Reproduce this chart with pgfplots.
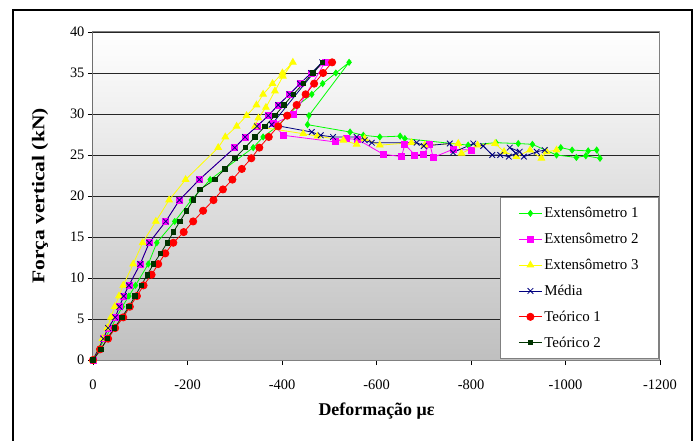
\documentclass[border=0pt]{standalone}
\usepackage{fontspec}
\setmainfont{Liberation Serif}
\usepackage{pgfplots}
\pgfplotsset{compat=1.18}
\definecolor{ext1}{RGB}{0,255,0}
\definecolor{ext2}{RGB}{255,0,255}
\definecolor{ext3}{RGB}{255,255,0}
\definecolor{media}{RGB}{0,0,128}
\definecolor{teo1}{RGB}{255,0,0}
\definecolor{teo2}{RGB}{0,51,0}
\begin{document}
\begin{tikzpicture}
\useasboundingbox (0,0) rectangle (699bp,441bp);
\draw[line width=2bp] (13bp,-10bp) -- (13bp,431bp) -- (692bp,431bp) -- (692bp,-10bp);
\begin{axis}[
    at={(93bp,81bp)}, anchor=south west,
    width=567bp, height=328bp, scale only axis,
    x dir=reverse,
    xmin=-1200, xmax=0, ymin=0, ymax=40,
    xtick={0,-200,-400,-600,-800,-1000,-1200},
    xticklabels={0,-200,-400,-600,-800,-1000,-1200},
    ytick={0,5,...,40},
    xtick pos=bottom, ytick pos=left,
    tick align=outside, major tick length=5bp,
    tick style={black, line width=0.8bp},
    ymajorgrids, grid style={black!85, line width=0.8bp},
    axis line style={gray, line width=1bp},
    axis background/.style={shade, top color=white, bottom color=black!25},
    /pgf/number format/assume math mode=true,
    ticklabel style={font=\fontsize{14.5}{16}\selectfont},
    xticklabel style={yshift=-11bp},
    xlabel={\textbf{Deformação με}},
    ylabel={\textbf{Força vertical (kN)}},
    xlabel style={font=\fontsize{18}{20}\selectfont, at={(axis description cs:0.5,-0.155)}, anchor=center},
    ylabel style={font=\fontsize{18}{20}\selectfont, at={(axis description cs:-0.0935,0.5)}, anchor=center, xscale=1.2},
    legend cell align=left,
    legend image code/.code={\draw[mark repeat=2,mark phase=2,#1] plot coordinates {(0bp,0bp) (11.5bp,0bp) (23bp,0bp)};},
    legend style={at={(0.718,0.497)}, anchor=north west, draw=gray, fill=white,
        font=\fontsize{15}{17}\selectfont, inner xsep=18bp, inner ysep=8bp, row sep=10bp,
        line width=0.8bp},
    every axis plot/.append style={line width=0.8bp},
]
\addplot[ext1, mark=diamond*, mark size=3bp] coordinates {
(0,0) (-12,1.3) (-25,2.6) (-38,3.9) (-50,5.2) (-62,6.5) (-76,7.8) (-90,9.1) (-117,11.7) (-135,14.3)
(-173,16.9) (-208,19.5) (-248,22.0) (-339,25.9) (-360,27.2) (-390,28.5) (-413,29.8) (-434,31.1)
(-463,32.4) (-486,33.7) (-514,35.0) (-542,36.3) (-457,29.8) (-454,28.7) (-544,27.8) (-572,27.4)
(-607,27.2) (-650,27.3) (-660,27.0) (-794,26.2) (-853,26.5) (-900,26.4) (-930,26.3) (-981,25.0)
(-1023,24.7) (-1043,24.9) (-1073,24.6) (-1066,25.6) (-1048,25.5) (-1014,25.6) (-990,25.9)
};
\addlegendentry{Extensômetro 1}
\addplot[ext2, mark=square*, mark size=3bp] coordinates {
(0,0) (-22,2.6) (-32,3.9) (-47,5.2) (-56,6.5) (-65,7.8) (-76,9.1) (-100,11.7) (-119,14.3) (-154,16.9)
(-183,19.5) (-225,22.0) (-300,25.9) (-322,27.2) (-347,28.5) (-371,29.8) (-392,31.1) (-416,32.4)
(-438,33.7) (-462,35.0) (-491,36.3) (-425,29.9) (-381,28.8) (-403,27.4) (-512,26.6) (-537,27.0)
(-560,26.9) (-614,25.1) (-653,24.8) (-660,26.3) (-681,25.0) (-700,25.1) (-713,26.3) (-720,24.7)
(-762,25.7) (-801,25.6)
};
\addlegendentry{Extensômetro 2}
\addplot[ext3, mark=triangle*, mark size=3.8bp] coordinates {
(0,0) (-20,2.6) (-30,3.9) (-38,5.2) (-46,6.5) (-55,7.8) (-64,9.1) (-85,11.7) (-105,14.3) (-133,16.9)
(-161,19.5) (-196,22.0) (-265,25.9) (-280,27.2) (-304,28.5) (-325,29.8) (-346,31.1) (-360,32.4)
(-380,33.7) (-401,35.0) (-423,36.3) (-402,34.6) (-385,32.8) (-366,30.8) (-350,29.5) (-343,28.5)
(-445,27.6) (-475,27.3) (-530,26.8) (-558,26.3) (-575,27.0) (-607,26.2) (-674,26.5) (-702,26.2)
(-773,26.4) (-780,25.2) (-814,26.2) (-851,26.4) (-870,25.4) (-896,24.8) (-925,25.6) (-949,24.6)
(-960,25.4) (-981,25.6)
};
\addlegendentry{Extensômetro 3}
\addplot[media, mark=x, mark size=4bp] coordinates {
(0,0) (-22,2.6) (-32,3.9) (-47,5.2) (-56,6.5) (-65,7.8) (-76,9.1) (-100,11.7) (-119,14.3) (-154,16.9)
(-183,19.5) (-225,22.0) (-300,25.9) (-322,27.2) (-347,28.5) (-371,29.8) (-392,31.1) (-416,32.4)
(-438,33.7) (-462,35.0) (-485,36.3) (-378,28.7) (-463,27.8) (-482,27.4) (-508,27.2) (-558,27.2)
(-575,26.8) (-590,26.5) (-685,26.5) (-700,26.1) (-755,26.4) (-762,25.3) (-805,26.4) (-826,26.1)
(-845,25.0) (-862,25.0) (-880,24.8) (-895,25.2) (-882,25.9) (-903,25.4) (-912,24.8) (-939,25.4)
(-956,25.6)
};
\addlegendentry{Média}
\addplot[teo1, mark=*, mark size=3.6bp] coordinates {
(0,0) (-15,1.3) (-32,2.6) (-47,3.9) (-64,5.2) (-78,6.5) (-93,7.8) (-107,9.1) (-124,10.4) (-138,11.7)
(-153,13.0) (-170,14.3) (-192,15.6) (-212,16.9) (-233,18.2) (-255,19.5) (-275,20.8) (-295,22.0)
(-315,23.3) (-335,24.6) (-352,25.9) (-372,27.2) (-392,28.5) (-411,29.8) (-431,31.1) (-450,32.4)
(-468,33.7) (-487,35.0) (-506,36.3)
};
\addlegendentry{Teórico 1}
\addplot[teo2, mark=square*, mark size=2.2bp] coordinates {
(0,0) (-17,1.3) (-30,2.6) (-45,3.9) (-61,5.2) (-76,6.5) (-89,7.8) (-102,9.1) (-115,10.4) (-128,11.7)
(-143,13.0) (-157,14.3) (-170,15.6) (-184,16.9) (-198,18.2) (-212,19.5) (-226,20.8) (-258,22.0)
(-279,23.3) (-300,24.6) (-322,25.9) (-343,27.2) (-364,28.5) (-385,29.8) (-404,31.1) (-424,32.4)
(-445,33.7) (-465,35.0) (-485,36.3)
};
\addlegendentry{Teórico 2}
\draw[black, line width=1bp] (rel axis cs:0,1) -- (rel axis cs:0,0) -- (rel axis cs:1,0);
\end{axis}
\end{tikzpicture}
\end{document}
